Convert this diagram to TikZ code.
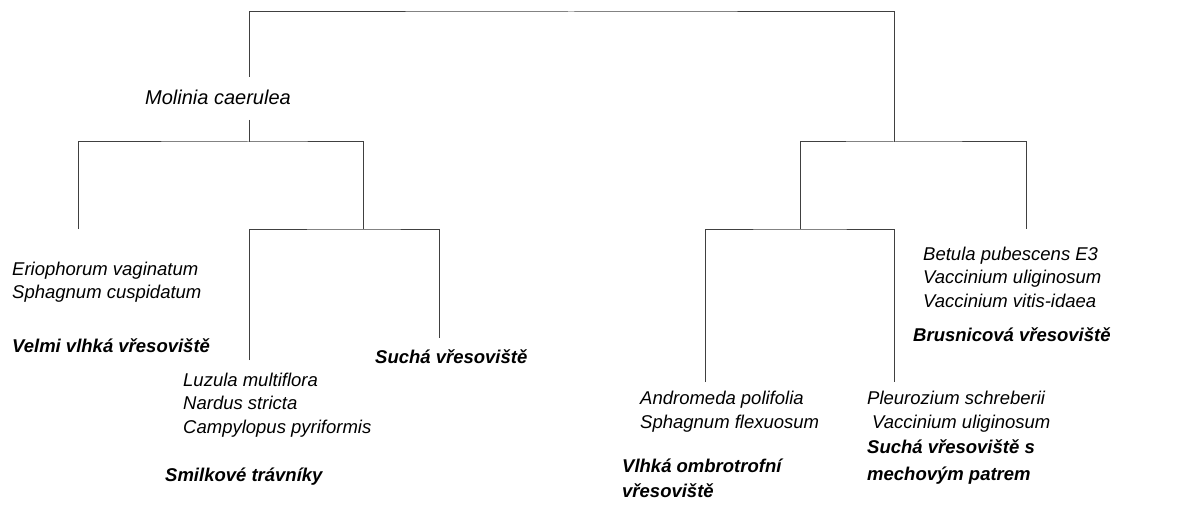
\documentclass[tikz,border=0pt]{standalone}
\usepackage{fontspec}
\setmainfont{Liberation Sans}
\tikzset{branch/.style={draw=black!75, line width=1pt},
species/.style={anchor=west, inner sep=0pt, align=left, font=\fontsize{18.5}{23.5}\selectfont\itshape},
habitat/.style={anchor=west, inner sep=0pt, align=left, font=\fontsize{18.5}{25}\selectfont\bfseries\itshape}}

\begin{document}
\begin{tikzpicture}[x=1pt, y=-1pt]

\useasboundingbox (0,0) rectangle (1204,505);

\coordinate (c0) at (571,12);
\coordinate (m1) at (249,77);
\coordinate (m2) at (249,120);
\coordinate (c1) at (249,142);
\coordinate (c2) at (363,229);
\coordinate (c3) at (894,142);
\coordinate (c4) at (800,229);

\coordinate (ev) at (78,229);
\coordinate (sm) at (249,360);
\coordinate (su) at (439,338);
\coordinate (an) at (705,382);
\coordinate (pl) at (894,382);
\coordinate (br) at (1026,229);

\draw[branch] (m1) |- (c0) -| (c3);
\draw[branch] (m2) -- (c1);
\draw[branch] (ev) |- (c1) -| (c2);
\draw[branch] (sm) |- (c2) -| (su);
\draw[branch] (c4) |- (c3) -| (br);
\draw[branch] (an) |- (c4) -| (pl);

\node[species, font=\fontsize{20}{24}\selectfont\itshape] (mol) at (145,97) {Molinia caerulea};

\node[species] (erio) at (12,282) {Eriophorum vaginatum\\Sphagnum cuspidatum};
\node[habitat] (velmi) at (12,346) {Velmi vlhká vřesoviště};

\node[species] (luz) at (183,405) {Luzula multiflora\\Nardus stricta\\Campylopus pyriformis};
\node[habitat] (smil) at (165,477) {Smilkové trávníky};

\node[habitat] (such) at (375,357) {Suchá vřesoviště};

\node[species] (andr) at (640,411.5) {Andromeda polifolia\\Sphagnum flexuosum};
\node[habitat] (vlhka) at (622,478) {Vlhká ombrotrofní\\vřesoviště};

\node[species] (pleu) at (867,411.5) {Pleurozium schreberii\\\hspace*{5pt}Vaccinium uliginosum};
\node[habitat, font=\fontsize{18.5}{27}\selectfont\bfseries\itshape] (mech) at (867,462) {Suchá vřesoviště s\\mechovým patrem};

\node[species] (bet) at (923,277) {Betula pubescens E3\\Vaccinium uliginosum\\Vaccinium vitis-idaea};
\node[habitat] (brus) at (913,335) {Brusnicová vřesoviště};

\end{tikzpicture}
\end{document}
